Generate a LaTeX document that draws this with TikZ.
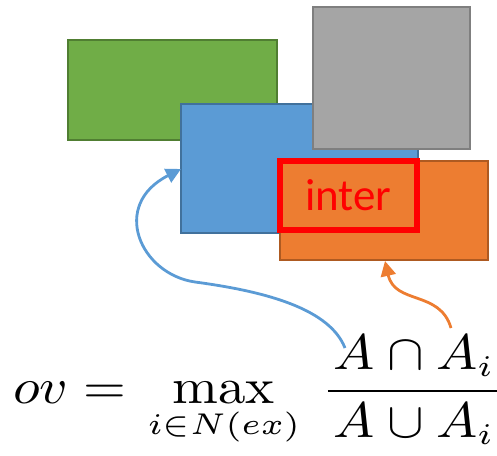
\documentclass[tikz,border=0pt]{standalone}
\usepackage{fontspec}
\newfontfamily\calibri{Carlito}
\usepackage{tikz}
\usetikzlibrary{arrows.meta}
\usepackage{xcolor}
\DeclareMathSizes{10}{10}{6}{5}
\definecolor{boxGreen}{HTML}{70AD47}
\definecolor{edgeGreen}{HTML}{507E32}
\definecolor{boxBlue}{HTML}{5B9BD5}
\definecolor{edgeBlue}{HTML}{41719C}
\definecolor{boxGray}{HTML}{A5A5A5}
\definecolor{edgeGray}{HTML}{7F7F7F}
\definecolor{boxOrange}{HTML}{ED7D31}
\definecolor{edgeOrange}{HTML}{AE5A21}
\tikzset{
    region/.style={
        rectangle,
        line width=1.5pt,
        inner sep=0pt,
        outer sep=0pt
    },
    interbox/.style={
        rectangle,
        draw=red,
        line width=6pt,
        inner sep=0pt,
        outer sep=0pt,
        text=red,
        font=\calibri\fontsize{45}{54}\selectfont
    },
    link/.style={-{Triangle[length=15pt,width=15pt]},line width=2.8pt}
}

\begin{document}
\begin{tikzpicture}[x=1pt,y=-1pt]
    \useasboundingbox (0,0) rectangle (497,455);
    \node[region, fill=boxGreen, draw=edgeGreen,
        minimum width=209, minimum height=100] (green) at (172.5,90) {};
    \node[region, fill=boxBlue, draw=edgeBlue,
        minimum width=237, minimum height=129] (blue) at (299.5,168.5) {};
    \node[region, fill=boxGray, draw=edgeGray,
        minimum width=157, minimum height=142] (gray) at (391.5,78) {};
    \node[region, fill=boxOrange, draw=edgeOrange,
        minimum width=208, minimum height=99] (orange) at (384,210.5) {};
    \node[interbox, minimum width=137, minimum height=69] (inter)
        at (348.5,195.5) {inter};

    % overlap formula
    \node[anchor=base west, inner sep=0pt, xscale=5.5, yscale=5.0,
        transform shape] (formula) at (12,403)
        {$\displaystyle ov = \mkern2mu \max_{i\in N(ex)} \mkern4mu
         \frac{\mkern2mu A\cap A_i\mkern2mu}{\mkern2mu A\cup A_i\mkern2mu}$};
    \coordinate (numA) at (345,348);
    \coordinate (numI) at (451,328);
    \coordinate (blueTip) at (181,169);
    \coordinate (orangeTip) at (385,261);

    \draw[link, draw=boxBlue] (numA)
        .. controls (330,310) and (270,292) .. (195,282)
        .. controls (140,274) and (110,205) .. (blueTip);
    \draw[link, draw=boxOrange] (numI)
        .. controls (440,290) and (395,305) .. (orangeTip);
\end{tikzpicture}
\end{document}
